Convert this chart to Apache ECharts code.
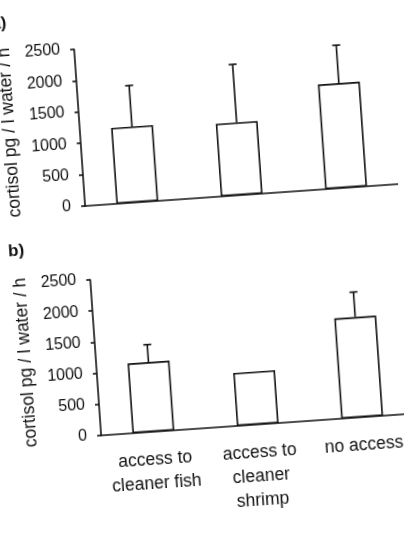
<!DOCTYPE html>
<html>
<head>
<meta charset="utf-8">
<script src="https://cdn.jsdelivr.net/npm/echarts@6/dist/echarts.min.js"></script>
<style>
html, body { margin: 0; padding: 0; background: #fff; overflow: hidden; }
#main { width: 404px; height: 544px; background: #fff; transform: rotate(-4deg); }
</style>
</head>
<body>
<div id="main"></div>
<script>
// groups on the x axis (panel b shows the names)
var groups = ['access to\ncleaner fish', 'access to\ncleaner\nshrimp', 'no access'];
var yTicks = [0, 500, 1000, 1500, 2000, 2500];

// panel a) mean cortisol and upper error (SE)
var aMeans = [1210, 1160, 1670];
var aSE = [655, 925, 605];
// panel b)
var bMeans = [1120, 850, 1610];
var bSE = [280, 0, 400];

var ink = '#111';
var font = "'Liberation Sans', Arial, sans-serif";

function errData(means, se) {
    var res = [];
    for (var i = 0; i < means.length; i++) {
        if (se[i] > 0) res.push([i, means[i], means[i] + se[i]]);
    }
    return res;
}

function renderErr(params, api) {
    var x = api.value(0);
    var p1 = api.coord([x, api.value(1)]);
    var p2 = api.coord([x, api.value(2)]);
    var st = { stroke: ink, lineWidth: 1.6 };
    return {
        type: 'group',
        children: [
            { type: 'line', shape: { x1: p1[0], y1: p1[1], x2: p2[0], y2: p2[1] }, style: st },
            { type: 'line', shape: { x1: p2[0] - 4, y1: p2[1], x2: p2[0] + 4, y2: p2[1] }, style: st }
        ]
    };
}

function yAx(idx) {
    return {
        gridIndex: idx,
        type: 'value',
        min: yTicks[0],
        max: yTicks[yTicks.length - 1],
        interval: 500,
        name: 'cortisol pg / l water / h',
        nameLocation: 'middle',
        nameGap: 53,
        nameTextStyle: { color: ink, fontSize: 17.5, fontFamily: font },
        axisLine: { show: true, lineStyle: { color: ink, width: 1.6 } },
        axisTick: { show: true, length: 4, lineStyle: { color: ink, width: 1.6 } },
        axisLabel: {
            color: ink, fontSize: 16, fontFamily: font, margin: 14,
            formatter: function (v) { return String(v); }
        },
        splitLine: { show: false }
    };
}

function xAx(idx, showLabel) {
    return {
        gridIndex: idx,
        type: 'category',
        data: groups,
        axisLine: { lineStyle: { color: ink, width: 1.6 } },
        axisTick: { show: false },
        axisLabel: {
            show: showLabel, interval: 0, color: ink, fontSize: 17.5,
            lineHeight: 24, margin: 16, fontFamily: font
        }
    };
}

function barSeries(idx, values) {
    return {
        type: 'bar',
        xAxisIndex: idx,
        yAxisIndex: idx,
        data: values,
        barWidth: 42,
        itemStyle: { color: '#fff', borderColor: ink, borderWidth: 1.6 },
        silent: true
    };
}

function errSeries(idx, means, se) {
    return {
        type: 'custom',
        xAxisIndex: idx,
        yAxisIndex: idx,
        data: errData(means, se),
        renderItem: renderErr,
        z: 5,
        silent: true
    };
}

var chart = echarts.init(document.getElementById('main'));

option = {
    animation: false,
    backgroundColor: '#fff',
    title: [
        { text: 'a)', left: 4, top: -3, textStyle: { color: ink, fontSize: 17, fontWeight: 'bold', fontFamily: font } },
        { text: 'b)', left: 5, top: 225, textStyle: { color: ink, fontSize: 17, fontWeight: 'bold', fontFamily: font } }
    ],
    grid: [
        { left: 90, top: 41, width: 318, height: 157 },
        { left: 90, top: 272, width: 318, height: 156 }
    ],
    xAxis: [xAx(0, false), xAx(1, true)],
    yAxis: [yAx(0), yAx(1)],
    series: [
        barSeries(0, aMeans),
        errSeries(0, aMeans, aSE),
        barSeries(1, bMeans),
        errSeries(1, bMeans, bSE)
    ]
};

chart.setOption(option);
window.addEventListener('resize', function () {
    chart.resize();
});
</script>
</body>
</html>
